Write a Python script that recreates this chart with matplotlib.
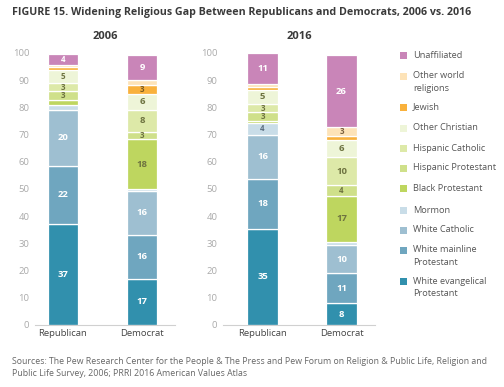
import matplotlib.pyplot as plt
from matplotlib.patches import Rectangle

plt.rcParams['font.family'] = ['Open Sans', 'DejaVu Sans']

categories = ['White evangelical\nProtestant', 'White mainline\nProtestant',
              'White Catholic', 'Mormon', 'Black Protestant',
              'Hispanic Protestant', 'Hispanic Catholic', 'Other Christian',
              'Jewish', 'Other world\nreligions', 'Unaffiliated']
colors = ['#3190ad', '#6fa6bf', '#9ebfd1', '#c9dde8', '#bed65f',
          '#cfe08a', '#dde9a8', '#eef5d8', '#f9b13c', '#fde3b8', '#c985b8']
text_colors = ['white', 'white', 'white', '#5b6e80', '#6e7340',
               '#6e7340', '#6e7340', '#6e7340', '#7a5a20', '#7a6040', 'white']

parties = ['Republican', 'Democrat']
years = ['2006', '2016']

# values per category, bottom to top, for [Republican, Democrat]
rep_2006 = [37, 21.6, 20.3, 2, 1.9, 3.1, 3.1, 4.9, 0.8, 0.8, 4]
dem_2006 = [17, 16.2, 16, 0.9, 18.1, 2.8, 8.2, 5.8, 3.1, 1.8, 9.3]
rep_2016 = [35.4, 18.4, 16.2, 4.2, 0.8, 3.2, 3.1, 5.2, 1, 1, 11.4]
dem_2016 = [8, 11, 10.4, 1, 17.2, 4, 10, 6.3, 1.6, 3.3, 26.4]

data = {'2006': [rep_2006, dem_2006], '2016': [rep_2016, dem_2016]}

fig = plt.figure(figsize=(5.04, 3.87), dpi=100)

fig.text(12 / 504, 1 - 12 / 387,
         'FIGURE 15. Widening Religious Gap Between Republicans and Democrats, 2006 vs. 2016',
         fontsize=7.7, fontweight='bold', color='#3a3a3a', va='center', ha='left')

axes_px = {'2006': (35, 175, -0.354, 1.418), '2016': (223, 375, -0.5, 1.424)}
bottom_frac = (387 - 325) / 387
height_frac = (325 - 53) / 387
width = 0.38

for year in years:
    x0, x1, lo, hi = axes_px[year]
    ax = fig.add_axes([x0 / 504, bottom_frac, (x1 - x0) / 504, height_frac])
    for i, vals in enumerate(data[year]):
        bottom = 0
        for v, c, tc in zip(vals, colors, text_colors):
            ax.bar(i, v, width=width, bottom=bottom, color=c,
                   edgecolor='white', linewidth=0.9)
            if round(v) >= 3:
                fs = 6.8 if v >= 5 else 5.8
                ax.text(i, bottom + v / 2, f'{round(v)}', ha='center',
                        va='center', fontsize=fs, fontweight='bold', color=tc)
            bottom += v
    ax.set_xlim(lo, hi)
    ax.set_ylim(0, 100)
    ax.set_yticks(range(0, 101, 10))
    ax.set_xticks([0, 1])
    ax.set_xticklabels(parties, fontsize=6.8, color='#444444')
    ax.tick_params(axis='y', length=0, labelsize=6.8, labelcolor='#aaaaaa', pad=4)
    ax.tick_params(axis='x', length=0, pad=3)
    for s in ['top', 'right', 'left']:
        ax.spines[s].set_visible(False)
    ax.spines['bottom'].set_color('#d0d0d0')
    ax.set_title(year, fontsize=8, fontweight='bold', color='#3a3a3a', pad=10)

# legend, top item first
leg_y = [55, 76, 107, 128, 148, 168, 189, 210, 230, 250, 281]
for y, cat, c in zip(leg_y, categories[::-1], colors[::-1]):
    fig.patches.append(Rectangle((400 / 504, 1 - (y + 3.5) / 387), 7 / 504, 7 / 387,
                                 transform=fig.transFigure, facecolor=c,
                                 edgecolor='none'))
    fig.text(413 / 504, 1 - (y - 4.5) / 387, cat, fontsize=6.6, color='#555555',
             va='top', ha='left', linespacing=1.5)

fig.text(12 / 504, 1 - 357 / 387,
         'Sources: The Pew Research Center for the People & The Press and Pew Forum on Religion & Public Life, Religion and\n'
         'Public Life Survey, 2006; PRRI 2016 American Values Atlas',
         fontsize=6.3, color='#666666', va='top', ha='left', linespacing=1.5)

fig.savefig('out.png', dpi=100)
